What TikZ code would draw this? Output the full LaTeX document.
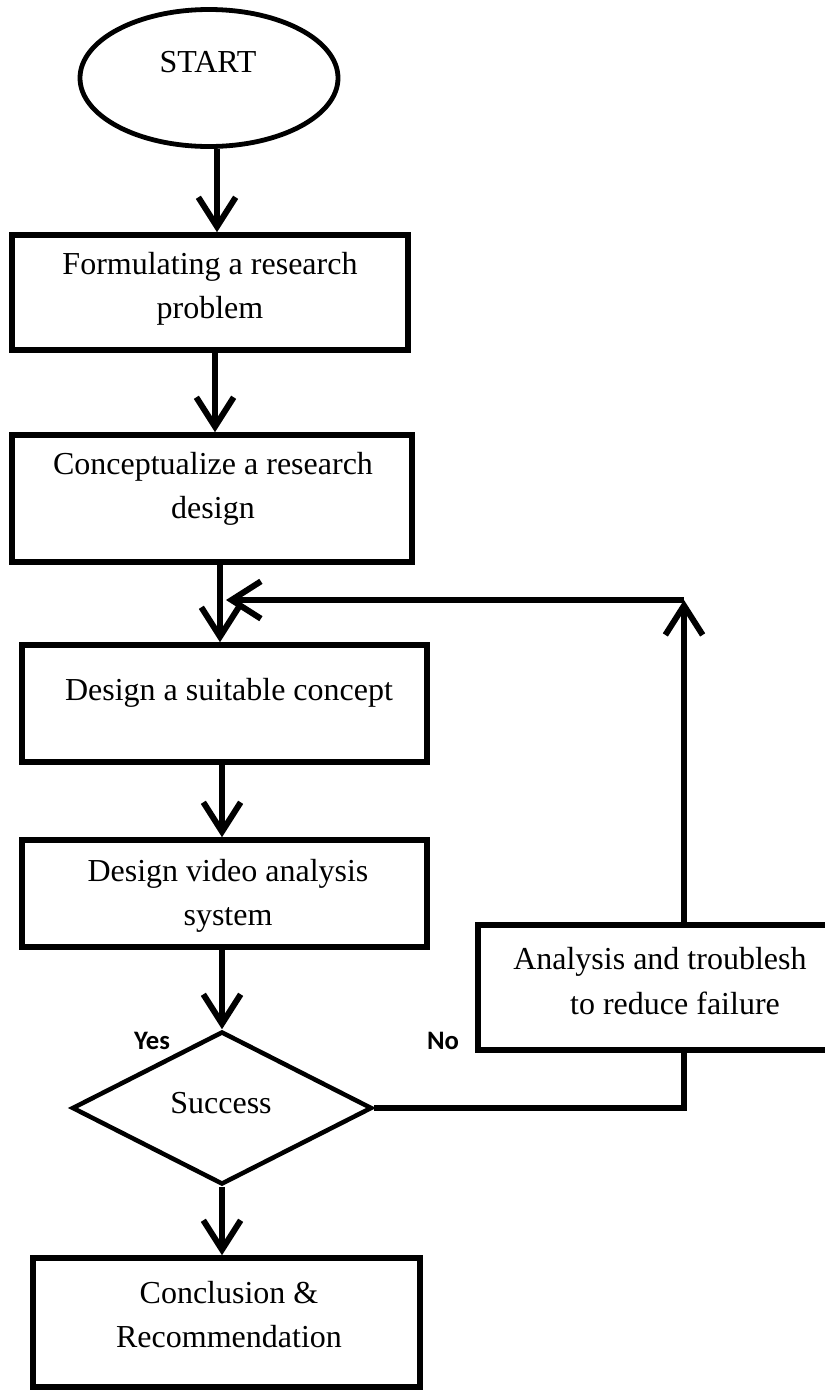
\documentclass[tikz,border=0pt]{standalone}
\usepackage{fontspec}
\setmainfont{Liberation Serif}
\newfontfamily\yesnofont{Carlito}
\usetikzlibrary{arrows.meta,shapes.geometric,calc}
\begin{document}
\begin{tikzpicture}[x=0.75pt,y=-0.75pt,
  boxnode/.style={draw,line width=4.2pt,rectangle,inner sep=0pt},
  txt/.style={font=\fontsize{24}{33}\selectfont,align=center,inner sep=0pt},
  lbl/.style={font=\yesnofont\bfseries\fontsize{20}{22}\selectfont,inner sep=0pt},
  arr/.style={line width=4.5pt,-{Straight Barb[length=22pt,width=28pt]}},
  conn/.style={line width=4.5pt}]
\useasboundingbox (0,0) rectangle (825,1390);
\clip (0,0) rectangle (825,1390);

% shapes
\node[draw,ellipse,line width=3.6pt,minimum width=193.5pt,minimum height=102.75pt,inner sep=0pt] (st) at (209,78) {};
\node[txt] (tst) at (208,62) {START};

\node[boxnode,minimum width=297pt,minimum height=86.25pt] (b1) at (210,292.5) {};
\node[txt] (t1) at (210,289) {Formulating a research\\problem};

\node[boxnode,minimum width=300pt,minimum height=95.25pt] (b2) at (212,498.5) {};
\node[txt] (t2) at (213,489) {Conceptualize a research\\design};

\node[boxnode,minimum width=303.75pt,minimum height=87.75pt] (b3) at (224.5,703.5) {};
\node[txt] (t3) at (229,693) {Design a suitable concept};

\node[boxnode,minimum width=303.75pt,minimum height=80.25pt] (b4) at (224.5,893.5) {};
\node[txt] (t4) at (228,896) {Design video analysis\\system};

\node[draw,diamond,line width=3.4pt,minimum width=225pt,minimum height=114.75pt,inner sep=0pt] (dm) at (222,1108) {};
\node[txt] (td) at (221,1103) {Success};

\node[boxnode,minimum width=316.5pt,minimum height=93.75pt] (b5) at (689,987.5) {};
\node[txt,anchor=west] (t5a) at (513,962) {Analysis and troublesh};
\node[txt] (t5b) at (675,1003) {to reduce failure};

\node[boxnode,minimum width=290.25pt,minimum height=96.75pt] (b6) at (226.5,1322.5) {};
\node[txt] (t6) at (229,1315) {Conclusion \&\\Recommendation};

\node[lbl] (yes) at (152,1041) {Yes};
\node[lbl] (no) at (443,1041) {No};

% helper coordinates
\coordinate (x0) at (217,0);
\coordinate (x1) at (215,0);
\coordinate (x2) at (220,0);
\coordinate (x3) at (222,0);
\coordinate (fbtop) at (684,600);
\coordinate (join) at (226,600);

% connectors
\draw[arr] (st.south -| x0) -- (b1.north -| x0);
\draw[arr] (b1.south -| x1) -- (b2.north -| x1);
\draw[arr] (b2.south -| x2) -- (b3.north -| x2);
\draw[arr] (b3.south -| x3) -- (b4.north -| x3);
\draw[arr] (b4.south -| x3) -- (dm.north);
\draw[arr] (dm.south) -- (b6.north -| dm.south);
\draw[conn] (dm.east) -| (b5.south -| fbtop);
\draw[arr] (b5.north -| fbtop) -- (fbtop);
\draw[arr] (fbtop) -- (join);
\end{tikzpicture}
\end{document}
